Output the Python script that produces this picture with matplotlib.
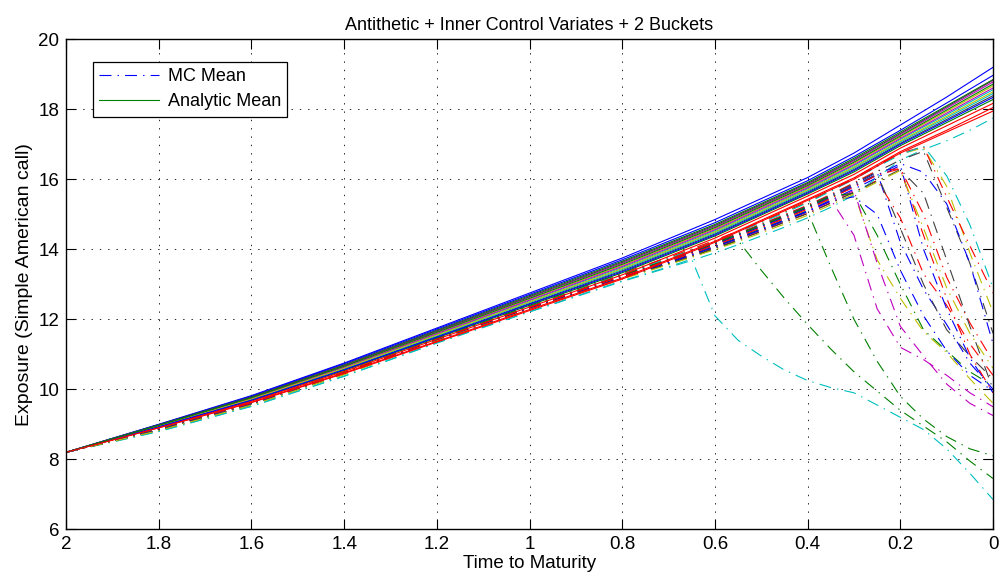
import numpy as np
import matplotlib
matplotlib.use("Agg")
import matplotlib.pyplot as plt

plt.rcParams['font.family'] = ['Liberation Sans', 'DejaVu Sans']
plt.rcParams['lines.scale_dashes'] = False

# time grids (time to maturity)
t_mc = [2.0, 1.8, 1.6, 1.4, 1.2, 1.0, 0.8, 0.7, 0.65, 0.6, 0.55, 0.5, 0.45, 0.4,
        0.35, 0.3, 0.25, 0.2, 0.15, 0.1, 0.05, 0.0]
t_an = [2.0, 1.8, 1.6, 1.4, 1.2, 1.0, 0.8, 0.6, 0.4, 0.3, 0.2, 0.1, 0.0]

# MC mean exposure paths (dash-dot)
mc_1 = [8.2, 8.87, 9.61, 10.48, 11.44, 12.36, 13.27, 13.71, 13.94, 14.18, 14.43, 14.69, 14.95, 15.22, 15.53, 15.85, 16.2, 14.2, 12.85, 11.85, 10.75, 10.0]
mc_2 = [8.2, 8.83, 9.57, 10.44, 11.4, 12.3, 13.18, 13.6, 13.81, 14.04, 14.27, 14.52, 14.78, 15.03, 15.33, 15.64, 15.97, 14.9, 13.3, 12.4, 11.3, 10.4]
mc_3 = [8.2, 8.8, 9.52, 10.38, 11.33, 12.22, 13.1, 13.5, 13.72, 12.1, 11.4, 10.95, 10.55, 10.25, 10.05, 9.9, 9.55, 9.2, 8.85, 8.3, 7.6, 6.85]
mc_4 = [8.2, 8.86, 9.6, 10.47, 11.43, 12.35, 13.25, 13.7, 13.92, 14.15, 14.4, 14.65, 14.92, 15.18, 15.42, 14.4, 12.3, 11.2, 10.85, 10.4, 9.9, 9.5]
mc_5 = [8.2, 8.85, 9.59, 10.46, 11.42, 12.33, 13.22, 13.65, 13.87, 14.1, 14.34, 14.6, 14.86, 15.12, 15.43, 15.6, 13.7, 12.6, 11.65, 11.05, 10.3, 9.6]
mc_6 = [8.2, 8.86, 9.6, 10.47, 11.43, 12.35, 13.25, 13.69, 13.92, 14.16, 14.41, 14.67, 14.93, 15.2, 15.5, 15.82, 16.15, 14.6, 13.0, 11.7, 10.95, 10.3]
mc_7 = [8.2, 8.83, 9.56, 10.43, 11.39, 12.3, 13.17, 13.58, 13.79, 14.02, 14.25, 13.4, 12.6, 11.85, 11.15, 10.5, 9.95, 9.4, 8.95, 8.5, 7.95, 7.45]
mc_8 = [8.2, 8.84, 9.58, 10.45, 11.41, 12.32, 13.21, 13.64, 13.86, 14.09, 14.33, 14.58, 14.84, 15.1, 15.4, 15.72, 16.05, 16.4, 14.0, 12.3, 10.9, 9.9]
mc_9 = [8.2, 8.87, 9.62, 10.49, 11.45, 12.37, 13.28, 13.73, 13.96, 14.2, 14.46, 14.72, 14.99, 15.26, 15.57, 15.9, 16.25, 16.3, 15.0, 13.2, 11.9, 10.8]
mc_10 = [8.2, 8.79, 9.51, 10.37, 11.32, 12.21, 13.08, 13.48, 13.68, 13.9, 14.13, 14.38, 14.63, 14.9, 15.2, 15.55, 16.05, 16.55, 16.85, 17.1, 17.4, 17.75]
mc_11 = [8.2, 8.84, 9.58, 10.45, 11.4, 12.31, 13.2, 13.62, 13.84, 14.07, 14.3, 14.55, 14.81, 15.07, 15.37, 15.68, 13.6, 11.8, 10.95, 10.15, 9.6, 9.25]
mc_12 = [8.2, 8.88, 9.63, 10.5, 11.46, 12.39, 13.31, 13.76, 14.0, 14.25, 14.51, 14.78, 15.06, 15.35, 15.68, 16.02, 16.38, 16.72, 16.9, 15.8, 13.9, 12.2]
mc_13 = [8.2, 8.87, 9.62, 10.49, 11.45, 12.37, 13.28, 13.72, 13.95, 14.19, 14.44, 14.7, 14.97, 15.24, 15.55, 15.88, 16.22, 16.55, 16.8, 15.2, 13.6, 11.6]
mc_14 = [8.2, 8.85, 9.58, 10.45, 11.41, 12.32, 13.2, 13.63, 13.85, 14.08, 14.32, 14.57, 14.82, 15.08, 13.5, 12.0, 10.8, 9.8, 9.15, 8.65, 8.3, 8.1]
mc_15 = [8.2, 8.86, 9.6, 10.47, 11.43, 12.34, 13.24, 13.68, 13.9, 14.14, 14.39, 14.65, 14.91, 15.18, 15.48, 15.8, 16.12, 16.45, 16.2, 15.3, 13.6, 11.3]
mc_16 = [8.2, 8.88, 9.64, 10.51, 11.47, 12.4, 13.32, 13.77, 14.01, 14.26, 14.52, 14.79, 15.07, 15.36, 15.69, 16.03, 16.4, 16.75, 16.93, 15.5, 14.1, 12.75]
mc_17 = [8.2, 8.87, 9.63, 10.5, 11.46, 12.38, 13.29, 13.74, 13.98, 14.23, 14.49, 14.76, 15.04, 15.33, 15.66, 16.0, 16.36, 16.7, 16.95, 16.1, 14.7, 12.9]
mc_18 = [8.2, 8.86, 9.61, 10.48, 11.44, 12.36, 13.26, 13.7, 13.93, 14.17, 14.42, 14.68, 14.94, 15.21, 15.52, 15.6, 14.4, 13.0, 11.7, 11.1, 10.5, 10.1]
mc_19 = [8.2, 8.85, 9.59, 10.46, 11.42, 12.33, 13.23, 13.66, 13.88, 14.12, 14.36, 14.62, 14.88, 15.15, 15.46, 15.78, 16.12, 16.3, 14.4, 12.6, 11.0, 9.9]
mc_20 = [8.2, 8.84, 9.57, 10.44, 11.4, 12.3, 13.19, 13.62, 13.84, 14.07, 14.31, 14.56, 14.82, 15.08, 15.38, 15.5, 15.0, 13.4, 12.1, 11.1, 10.4, 9.95]
mc_21 = [8.2, 8.83, 9.56, 10.43, 11.39, 12.29, 13.17, 13.59, 13.8, 14.03, 14.26, 14.51, 14.77, 15.02, 15.32, 15.63, 15.95, 16.28, 15.6, 13.7, 11.8, 10.0]
mc_22 = [8.2, 8.82, 9.55, 10.42, 11.38, 12.28, 13.15, 13.56, 13.77, 13.99, 14.22, 14.47, 14.72, 14.97, 15.27, 15.58, 15.92, 16.25, 14.6, 12.9, 11.6, 10.6]

# analytic mean exposure paths (solid)
an_1 = [8.2, 9.0, 9.82, 10.75, 11.75, 12.75, 13.75, 14.85, 16.05, 16.75, 17.55, 18.35, 19.2]
an_2 = [8.2, 8.99, 9.79, 10.7, 11.69, 12.68, 13.66, 14.71, 15.91, 16.6, 17.35, 18.1, 18.85]
an_3 = [8.2, 8.9, 9.63, 10.47, 11.37, 12.28, 13.18, 14.23, 15.43, 16.04, 16.79, 17.4, 18.05]
an_4 = [8.2, 8.96, 9.73, 10.62, 11.57, 12.53, 13.48, 14.53, 15.73, 16.39, 17.14, 17.85, 18.56]
an_5 = [8.2, 8.98, 9.77, 10.68, 11.65, 12.63, 13.6, 14.65, 15.85, 16.53, 17.28, 18.03, 18.78]
an_6 = [8.2, 8.97, 9.75, 10.65, 11.61, 12.58, 13.54, 14.59, 15.79, 16.46, 17.21, 17.94, 18.67]
an_7 = [8.2, 8.94, 9.7, 10.57, 11.51, 12.45, 13.39, 14.44, 15.64, 16.28, 17.03, 17.71, 18.39]
an_8 = [8.2, 8.99, 9.8, 10.73, 11.72, 12.71, 13.7, 14.76, 15.96, 16.65, 17.4, 18.18, 18.97]
an_9 = [8.2, 8.93, 9.68, 10.54, 11.47, 12.4, 13.33, 14.38, 15.58, 16.21, 16.96, 17.62, 18.28]
an_10 = [8.2, 8.92, 9.66, 10.51, 11.43, 12.35, 13.27, 14.32, 15.52, 16.14, 16.89, 17.53, 18.17]
an_11 = [8.2, 8.95, 9.71, 10.59, 11.53, 12.48, 13.42, 14.47, 15.67, 16.32, 17.07, 17.76, 18.45]
an_12 = [8.2, 8.96, 9.74, 10.63, 11.59, 12.55, 13.51, 14.56, 15.76, 16.42, 17.17, 17.89, 18.61]
an_13 = [8.2, 8.95, 9.72, 10.6, 11.55, 12.5, 13.45, 14.5, 15.7, 16.35, 17.1, 17.8, 18.5]
an_14 = [8.2, 8.98, 9.78, 10.69, 11.67, 12.65, 13.63, 14.68, 15.88, 16.56, 17.31, 18.07, 18.83]
an_15 = [8.2, 8.93, 9.69, 10.56, 11.49, 12.43, 13.36, 14.41, 15.61, 16.25, 17.0, 17.67, 18.34]
an_16 = [8.2, 8.97, 9.76, 10.66, 11.63, 12.6, 13.57, 14.62, 15.82, 16.49, 17.24, 17.98, 18.72]
an_17 = [8.2, 8.9, 9.62, 10.45, 11.35, 12.25, 13.15, 14.2, 15.4, 16.0, 16.75, 17.35, 17.95]

x_ticks = [2, 1.8, 1.6, 1.4, 1.2, 1, 0.8, 0.6, 0.4, 0.2, 0]
x_ticklabels = ['2', '1.8', '1.6', '1.4', '1.2', '1', '0.8', '0.6', '0.4', '0.2', '0']
y_ticks = [6, 8, 10, 12, 14, 16, 18, 20]

# matlab line colours
mcol = {'b': (0, 0, 1), 'g': (0, 0.5, 0), 'r': (1, 0, 0), 'c': (0, 0.75, 0.75),
        'm': (0.75, 0, 0.75), 'y': (0.75, 0.75, 0), 'k': (0.25, 0.25, 0.25)}

mc_paths = [mc_1, mc_2, mc_3, mc_4, mc_5, mc_6, mc_7, mc_8, mc_9, mc_10, mc_11,
            mc_12, mc_13, mc_14, mc_15, mc_16, mc_17, mc_18, mc_19, mc_20, mc_21, mc_22]
mc_colors = ['b', 'r', 'c', 'm', 'y', 'k', 'g', 'b', 'r', 'c', 'm',
             'y', 'k', 'g', 'b', 'r', 'c', 'g', 'r', 'b', 'k', 'y']
an_paths = [an_1, an_2, an_3, an_4, an_5, an_6, an_7, an_8, an_9, an_10, an_11,
            an_12, an_13, an_14, an_15, an_16, an_17]
an_colors = ['b', 'g', 'r', 'c', 'm', 'y', 'k', 'b', 'g', 'r', 'c',
             'm', 'y', 'k', 'b', 'g', 'r']

fig = plt.figure(figsize=(10.05, 5.83), dpi=100)
ax = fig.add_axes([0.0657, 0.0921, 0.9224, 0.8405])

dashdot = (0, (8.6, 4.4, 1.0, 4.4))
mc_handle = None
for path, c in zip(mc_paths, mc_colors):
    ln, = ax.plot(t_mc, path, color=mcol[c], lw=0.8, linestyle=dashdot)
    if mc_handle is None:
        mc_handle = ln

an_handle = None
for path, c in zip(an_paths, an_colors):
    ln, = ax.plot(t_an, path, color=mcol[c], lw=0.8, linestyle='-')
    if an_handle is None and c == 'g':
        an_handle = ln

ax.set_xlim(2, 0)
ax.set_ylim(6, 20)
ax.set_xticks(x_ticks)
ax.set_xticklabels(x_ticklabels)
ax.set_yticks(y_ticks)
ax.tick_params(direction='in', length=7, width=0.8, top=True, right=True,
               labelsize=13.5, pad=5)
ax.grid(True, color='black', linestyle=(0, (1, 5)), linewidth=0.6)
for s in ax.spines.values():
    s.set_linewidth(1.0)

ax.set_xlabel('Time to Maturity', fontsize=13.5, labelpad=1)
ax.set_ylabel('Exposure (Simple American call)', fontsize=14, labelpad=4)
ax.set_title('Antithetic + Inner Control Variates + 2 Buckets', fontsize=13, pad=7)

leg = ax.legend([mc_handle, an_handle], ['MC Mean', 'Analytic Mean'],
                loc='upper left', bbox_to_anchor=(0.029, 0.954), borderaxespad=0,
                fontsize=13, handlelength=3.3, fancybox=False, framealpha=1,
                edgecolor='black', borderpad=0.35, labelspacing=0.45, handletextpad=0.5)
leg.get_frame().set_linewidth(0.9)

fig.savefig('out.png', dpi=100)
